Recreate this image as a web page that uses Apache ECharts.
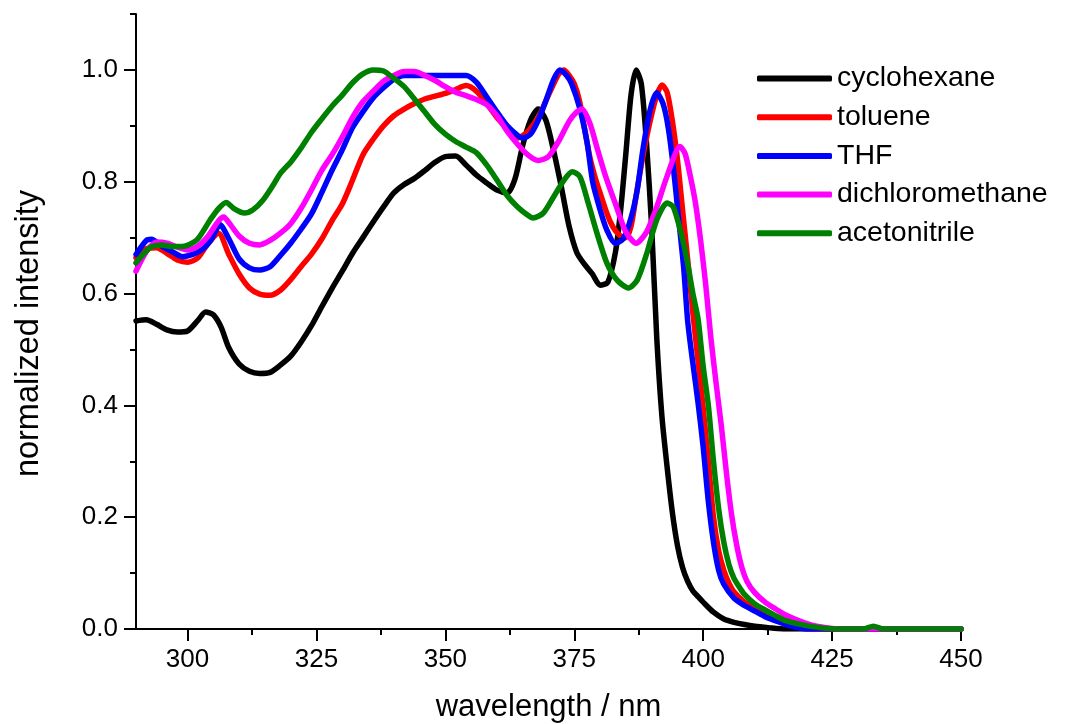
<!DOCTYPE html>
<html>
<head>
<meta charset="utf-8">
<script src="https://cdn.jsdelivr.net/npm/echarts@6/dist/echarts.min.js"></script>
<style>
html,body{margin:0;padding:0;background:#fff;}
#chart{width:1075px;height:724px;}
</style>
</head>
<body>
<div id="chart"></div>
<script>
// ---------- data ----------
var seriesNames = ['cyclohexane', 'toluene', 'THF', 'dichloromethane', 'acetonitrile'];
var xTickValues = [300, 325, 350, 375, 400, 425, 450];
var xMinorTickValues = [312.5, 337.5, 362.5, 387.5, 412.5, 437.5];
var yTickValues = [0, 0.2, 0.4, 0.6, 0.8, 1.0];
var yMinorTickValues = [0.1, 0.3, 0.5, 0.7, 0.9, 1.1];

var cyclohexaneX = [290,292,294,296,298,300,302,303.5,305,306.5,308,310,312,314,316,318,320,322,324,326,328,330,332,334,336,338,340,342,344,346,348,350,352,354,356,358,360,362,363.5,365,366.5,368,369.5,371,372.5,374,375.5,377,378.5,380,381.5,383,384,385,386,387,388,389,390,391,392,393,394,395,396,397,398,399,400,402,404,406,408,410,413,416,450];
var cyclohexaneY = [0.551,0.553,0.545,0.535,0.531,0.533,0.552,0.567,0.562,0.54,0.503,0.474,0.461,0.457,0.459,0.472,0.488,0.513,0.542,0.576,0.609,0.64,0.672,0.70,0.728,0.755,0.78,0.795,0.806,0.82,0.835,0.845,0.846,0.83,0.812,0.798,0.785,0.78,0.805,0.865,0.91,0.93,0.91,0.855,0.79,0.72,0.673,0.652,0.635,0.615,0.62,0.675,0.75,0.85,0.955,1.0,0.975,0.87,0.72,0.52,0.38,0.29,0.21,0.15,0.11,0.085,0.068,0.058,0.048,0.03,0.018,0.012,0.008,0.005,0.002,0,0];

var tolueneX = [290,292,294,296,298,300,302,304,306,308,310,312,314,316,318,320,322,324,326,328,330,332,334,336,338,340,342,344,346,348,350,352,354,356,358,360,362,364,366,368,370,372,373,374,375,376,377,378,379,380,381,382,383,384,385,386,387,388,389,390,391,392,393,394,395,396,397,398,399,400,401,402,403,404,405,406,408,410,412,414,416,418,421,450];
var tolueneY = [0.664,0.68,0.682,0.672,0.66,0.656,0.664,0.69,0.708,0.67,0.635,0.61,0.599,0.597,0.606,0.625,0.648,0.67,0.697,0.73,0.76,0.803,0.848,0.876,0.9,0.918,0.93,0.94,0.948,0.953,0.958,0.965,0.972,0.962,0.94,0.915,0.895,0.878,0.89,0.915,0.955,0.993,1.0,0.99,0.975,0.945,0.895,0.845,0.809,0.78,0.752,0.728,0.712,0.703,0.70,0.72,0.775,0.83,0.878,0.92,0.955,0.973,0.96,0.91,0.84,0.75,0.66,0.565,0.48,0.395,0.3,0.2,0.14,0.105,0.082,0.066,0.048,0.037,0.026,0.018,0.01,0.004,0,0];

var thfX = [290,292,293,295,297,299,301,303,304.5,306.3,308,310,312,314,316,318,320,322,324,326,328,330,332,334,336,338,340,342,346,350,354,356,358,360,362,364,365,366.5,368,369.5,371,372.2,373.5,374.5,376.1,377.5,378.6,380,381.3,382.9,384.5,386,387.2,388.3,389.7,391,392.2,393.2,394.2,395.2,396.2,397,398,399,400,401,402,403,404,406,408,410,412,414,416,418,420,450];
var thfY = [0.67,0.695,0.697,0.685,0.675,0.666,0.67,0.68,0.695,0.723,0.698,0.662,0.646,0.642,0.648,0.668,0.69,0.715,0.742,0.78,0.82,0.857,0.897,0.925,0.95,0.968,0.983,0.99,0.99,0.99,0.99,0.978,0.952,0.925,0.9,0.883,0.878,0.885,0.91,0.945,0.983,1.0,0.99,0.975,0.93,0.869,0.798,0.75,0.714,0.69,0.698,0.735,0.785,0.857,0.928,0.959,0.94,0.898,0.827,0.737,0.648,0.55,0.475,0.405,0.325,0.228,0.155,0.105,0.08,0.055,0.042,0.032,0.022,0.015,0.008,0.003,0,0];

var dcmX = [290,292,294,296,298,300,302,304,306,307,308,310,312,314,316,318,320,322,324,326,328,330,332,334,336,338,340,342,344,346,348,350,352,354,356,358,360,362,364,366,368,370,372,374,375.5,376.5,378,379.5,381,383,385,387,389,391,393,395.5,396.5,397.5,398.5,399.5,400.5,401.5,402.5,403.5,404.5,405.5,406.5,407.5,408.5,410,412,414,416,418,420,422,425,428,450];
var dcmY = [0.64,0.675,0.692,0.69,0.683,0.678,0.685,0.703,0.73,0.737,0.727,0.703,0.69,0.687,0.695,0.708,0.725,0.752,0.785,0.82,0.848,0.88,0.915,0.943,0.962,0.98,0.99,0.997,0.997,0.99,0.981,0.97,0.96,0.954,0.947,0.938,0.918,0.89,0.867,0.848,0.838,0.845,0.873,0.908,0.925,0.93,0.905,0.858,0.812,0.76,0.71,0.69,0.71,0.755,0.81,0.863,0.85,0.81,0.762,0.695,0.615,0.52,0.44,0.365,0.28,0.205,0.15,0.11,0.085,0.065,0.048,0.036,0.025,0.017,0.01,0.005,0.001,0,0];

var acetonitrileX = [290,292.7,295,297,299,301.8,304.4,306,307.5,309,311,312.7,314.6,316.6,318,320,322,324,326,328,330,332,334,336,338,340,342,344,346,348,350,352,354,356,358,360,362,364,366,367,369,371,373,374.6,376.1,377.7,379.4,381.3,383.3,385.5,387.2,389.1,391,393,394.2,395.9,397.1,398,399,400,401,402,403,404,405,406,407,408,410,412,414,416,418,420,423,426,431,433,435,450];
var acetonitrileY = [0.655,0.682,0.687,0.684,0.684,0.696,0.732,0.752,0.763,0.752,0.744,0.75,0.767,0.794,0.815,0.835,0.86,0.888,0.912,0.935,0.955,0.977,0.993,1.0,0.998,0.985,0.97,0.948,0.925,0.902,0.885,0.872,0.862,0.852,0.83,0.803,0.775,0.755,0.74,0.735,0.744,0.773,0.803,0.818,0.809,0.762,0.708,0.655,0.624,0.61,0.624,0.673,0.732,0.762,0.755,0.701,0.648,0.6,0.555,0.47,0.4,0.3,0.215,0.155,0.115,0.09,0.075,0.062,0.045,0.034,0.024,0.015,0.01,0.006,0.002,0,0,0.005,0,0];

var seriesColors = ['#000000', '#ff0000', '#0000ff', '#ff00ff', '#008000'];
// ------------------------------------------------------

function zip(xs, ys) {
  var out = [];
  for (var i = 0; i < Math.min(xs.length, ys.length); i++) out.push([xs[i], ys[i]]);
  return out;
}
var allX = [cyclohexaneX, tolueneX, thfX, dcmX, acetonitrileX];
var allY = [cyclohexaneY, tolueneY, thfY, dcmY, acetonitrileY];

var FONT = '"Liberation Sans", Arial, Helvetica, sans-serif';
var chart = echarts.init(document.getElementById('chart'), null, {renderer: 'canvas'});

var series = seriesNames.map(function (name, i) {
  return {
    name: name,
    type: 'line',
    xAxisIndex: 0,
    yAxisIndex: 0,
    data: zip(allX[i], allY[i]),
    showSymbol: false,
    symbol: 'none',
    smooth: 0.25,
    lineStyle: {color: seriesColors[i], width: 5.5, cap: 'round', join: 'round'},
    itemStyle: {color: seriesColors[i]},
    emphasis: {disabled: true},
    animation: false
  };
});

var option = {
  backgroundColor: '#ffffff',
  animation: false,
  grid: {left: 136, right: 114, top: 14, bottom: 95, containLabel: false, outerBoundsMode: 'none'},
  legend: {
    orient: 'vertical',
    left: 757,
    top: 64,
    padding: 0,
    itemWidth: 75,
    itemHeight: 6,
    itemGap: 9.7,
    icon: 'roundRect',
    data: seriesNames,
    textStyle: {fontFamily: FONT, fontSize: 28.5, color: '#000'}
  },
  xAxis: [{
    type: 'value',
    min: 290,
    max: 450,
    name: 'wavelength / nm',
    nameLocation: 'middle',
    nameGap: 63,
    nameTextStyle: {fontFamily: FONT, fontSize: 31, color: '#000'},
    axisLine: {show: true, lineStyle: {color: '#000', width: 2}},
    axisTick: {show: true, inside: false, length: 12, lineStyle: {color: '#000', width: 2}, customValues: xTickValues},
    axisLabel: {show: true, margin: 18, fontFamily: FONT, fontSize: 26, color: '#000', customValues: xTickValues},
    splitLine: {show: false}
  }, {
    type: 'value',
    min: 290,
    max: 450,
    position: 'bottom',
    axisLine: {show: false},
    axisTick: {show: true, inside: false, length: 6, lineStyle: {color: '#000', width: 2}, customValues: xMinorTickValues},
    axisLabel: {show: false},
    splitLine: {show: false}
  }],
  yAxis: [{
    type: 'value',
    min: 0,
    max: 1.1,
    name: 'normalized intensity',
    nameLocation: 'middle',
    nameGap: 90,
    nameTextStyle: {fontFamily: FONT, fontSize: 32.5, color: '#000', padding: [0, 24, 0, 0]},
    axisLine: {show: true, lineStyle: {color: '#000', width: 2}},
    axisTick: {show: true, inside: false, length: 12, lineStyle: {color: '#000', width: 2}, customValues: yTickValues},
    axisLabel: {show: true, margin: 18, fontFamily: FONT, fontSize: 26, color: '#000', customValues: yTickValues,
      formatter: function (v) { return v.toFixed(1); }},
    splitLine: {show: false}
  }, {
    type: 'value',
    min: 0,
    max: 1.1,
    position: 'left',
    axisLine: {show: false},
    axisTick: {show: true, inside: false, length: 6, lineStyle: {color: '#000', width: 2}, customValues: yMinorTickValues},
    axisLabel: {show: false},
    splitLine: {show: false}
  }],
  series: series
};
chart.setOption(option);
</script>
</body>
</html>
